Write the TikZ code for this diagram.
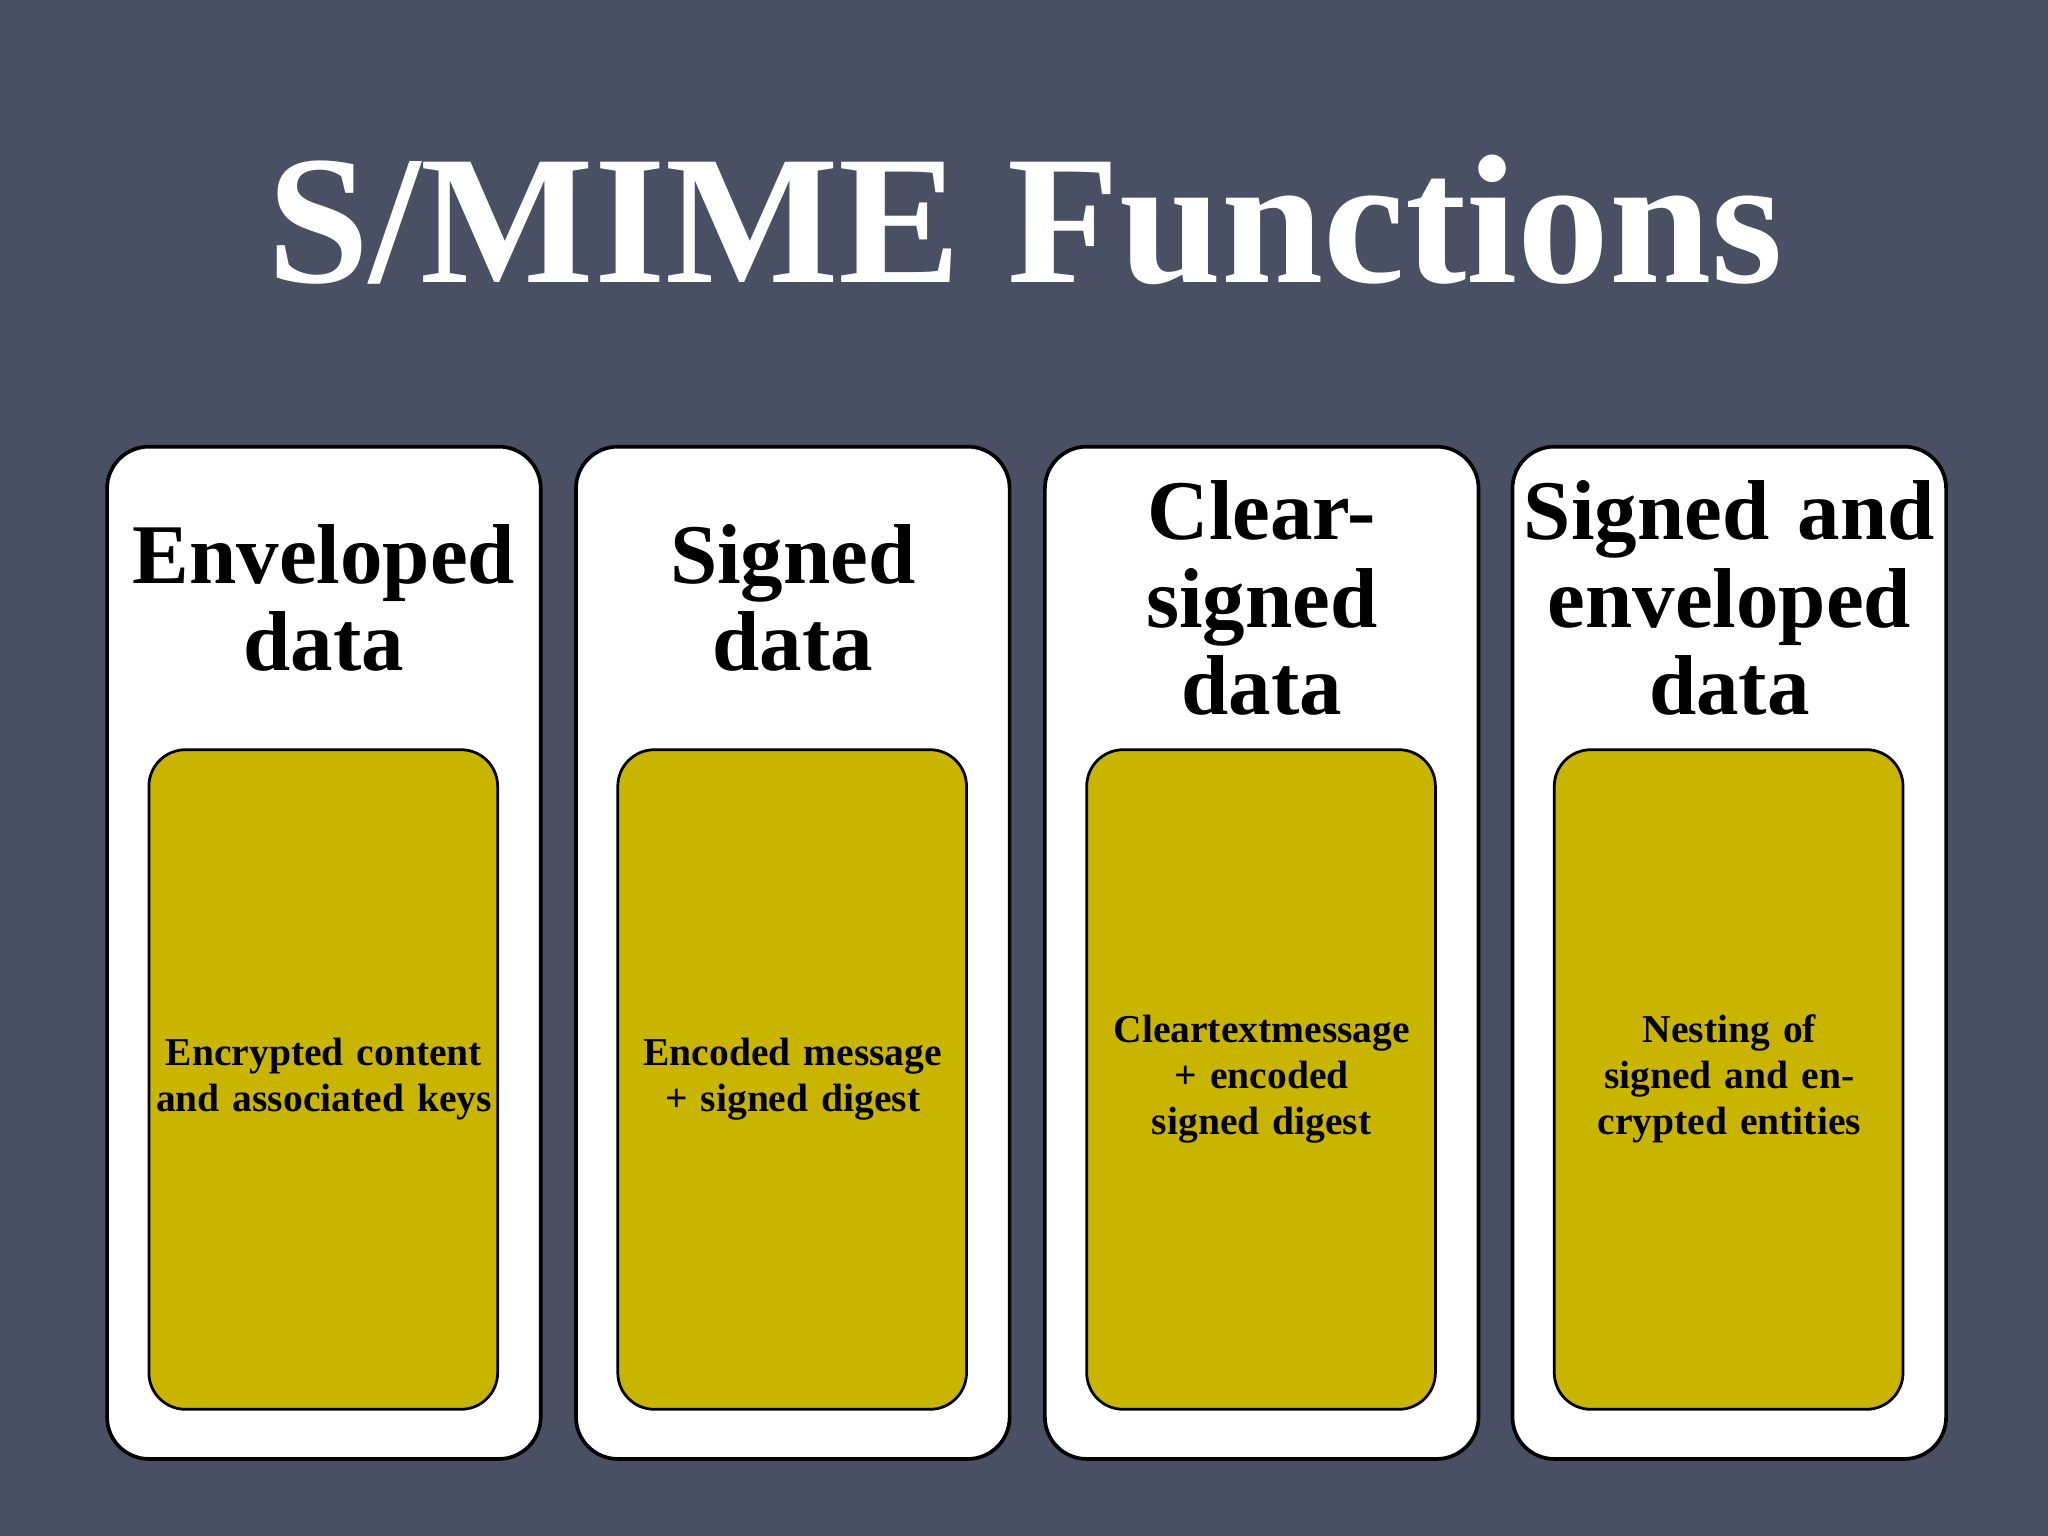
\documentclass[tikz,border=0pt]{standalone}
\usepackage{fontspec}
\setmainfont{Liberation Serif}
\definecolor{bg}{HTML}{4A5064}
\definecolor{gold}{HTML}{C9B400}
\begin{document}
\begin{tikzpicture}[x=0.01cm,y=-0.01cm,
  card/.style={draw=black,fill=white,rounded corners=0.32cm,line width=0.8pt},
  inner/.style={draw=black,fill=gold,rounded corners=0.28cm,line width=0.6pt},
  head/.style={align=center,font=\fontsize{18.5}{19}\selectfont\bfseries,text width=3.2cm},
  body/.style={align=center,font=\fontsize{8.6}{10}\selectfont\bfseries,text width=2.6cm}]
\fill[bg] (0,0) rectangle (1568,1176);
\useasboundingbox (0,0) rectangle (1568,1176);
\node[text=white,font=\fontsize{40}{40}\selectfont\bfseries] (title) at (785,168) {S/MIME Functions};
\foreach \x/\n/\h/\b in {
  82/a/{Enveloped\\data}/{Encrypted content and associated keys},
  441/b/{Signed data}/{Encoded message + signed digest},
  800/c/{Clear-\\signed data}/{Cleartextmessage + encoded signed digest},
  1158/d/{Signed and\\enveloped\\data}/{Nesting of signed and encrypted entities}}{
  \draw[card] (\x,342) rectangle ++(332,775);
  \node[head] (h\n) at (\x+166,458) {\h};
  \draw[inner] (\x+32,574) rectangle ++(267,505);
  \node[body] (b\n) at (\x+166,826) {\b};
}
\end{tikzpicture}
\end{document}
